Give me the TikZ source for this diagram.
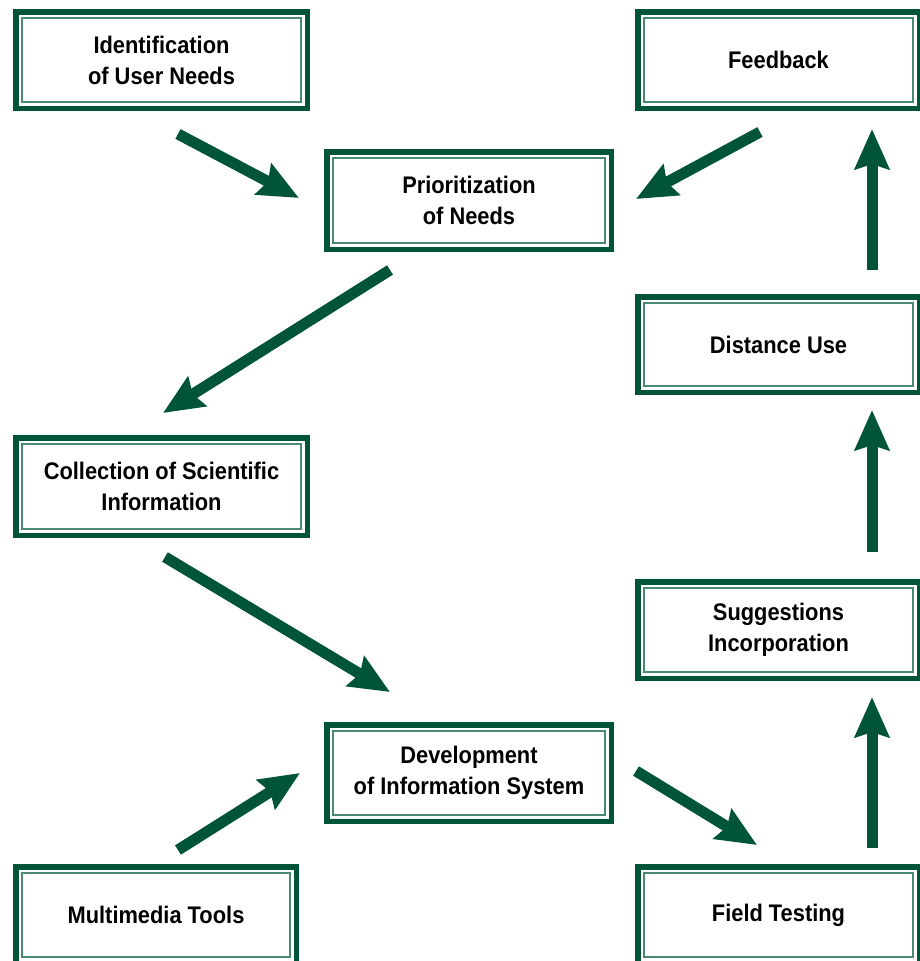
\documentclass[tikz,border=0pt]{standalone}
\usepackage{fontspec}
\setmainfont{Liberation Sans}[FakeStretch=0.91]
\usetikzlibrary{arrows.meta}
\definecolor{dg}{RGB}{0,84,56}
\definecolor{lg}{RGB}{74,138,112}
\tikzset{
  box/.style={draw=dg, line width=5.5pt, fill=white, inner sep=0pt, outer sep=0pt,
    align=center, text=black, font=\fontsize{24}{31}\selectfont\bfseries},
  innerline/.style={draw=lg, line width=1.8pt},
  arr/.style={draw=dg, line width=11pt, -{Stealth[length=40pt,width=34pt,inset=5pt]}}
}
\begin{document}
\begin{tikzpicture}[x=1pt,y=-1pt]
\useasboundingbox (0,0) rectangle (919,961);
\fill[white] (0,0) rectangle (919,961);
\node[box, minimum width=291.5pt, minimum height=96.5pt] (idn) at (161.5,60) {Identification\\of User Needs};
\node[box, minimum width=281.5pt, minimum height=96.5pt] (fb) at (778.5,60) {Feedback};
\node[box, minimum width=284.5pt, minimum height=97.5pt] (pri) at (469,200.5) {Prioritization\\of Needs};
\node[box, minimum width=281.5pt, minimum height=95.5pt] (dis) at (778.5,344.5) {Distance Use};
\node[box, minimum width=291.5pt, minimum height=97.5pt] (col) at (161.5,486.5) {Collection of Scientific\\Information};
\node[box, minimum width=281.5pt, minimum height=96.5pt] (sug) at (778.5,630) {Suggestions\\Incorporation};
\node[box, minimum width=284.5pt, minimum height=96.5pt] (dev) at (469,773) {Development\\of Information System};
\node[box, minimum width=280.5pt, minimum height=96.5pt] (mm) at (156,915) {Multimedia Tools};
\node[box, minimum width=281.5pt, minimum height=96.5pt] (ft) at (778.5,915) {Field Testing};
\foreach \n in {idn,fb,pri,dis,col,sug,dev,mm,ft}{
  \draw[innerline] ([shift={(6.25,6.25)}]\n.north west) rectangle ([shift={(-6.25,-6.25)}]\n.south east);
}
% arrow end points
\coordinate (a1s) at (178,134); \coordinate (a1e) at (299,198);
\coordinate (a2s) at (760,132); \coordinate (a2e) at (636,199);
\coordinate (a3s) at (390,270); \coordinate (a3e) at (163,413);
\coordinate (a4s) at (165,557); \coordinate (a4e) at (390,692);
\coordinate (a5s) at (178,850); \coordinate (a5e) at (300,773);
\coordinate (a6s) at (636,771); \coordinate (a6e) at (757,845);
\coordinate (a7s) at (872,848); \coordinate (a7e) at (872,697);
\coordinate (a8s) at (872,552); \coordinate (a8e) at (872,410);
\coordinate (a9s) at (872,270); \coordinate (a9e) at (872,129);
\draw[arr] (a1s) -- (a1e);
\draw[arr] (a2s) -- (a2e);
\draw[arr] (a3s) -- (a3e);
\draw[arr] (a4s) -- (a4e);
\draw[arr] (a5s) -- (a5e);
\draw[arr] (a6s) -- (a6e);
\draw[arr] (a7s) -- (a7e);
\draw[arr] (a8s) -- (a8e);
\draw[arr] (a9s) -- (a9e);
\end{tikzpicture}
\end{document}
